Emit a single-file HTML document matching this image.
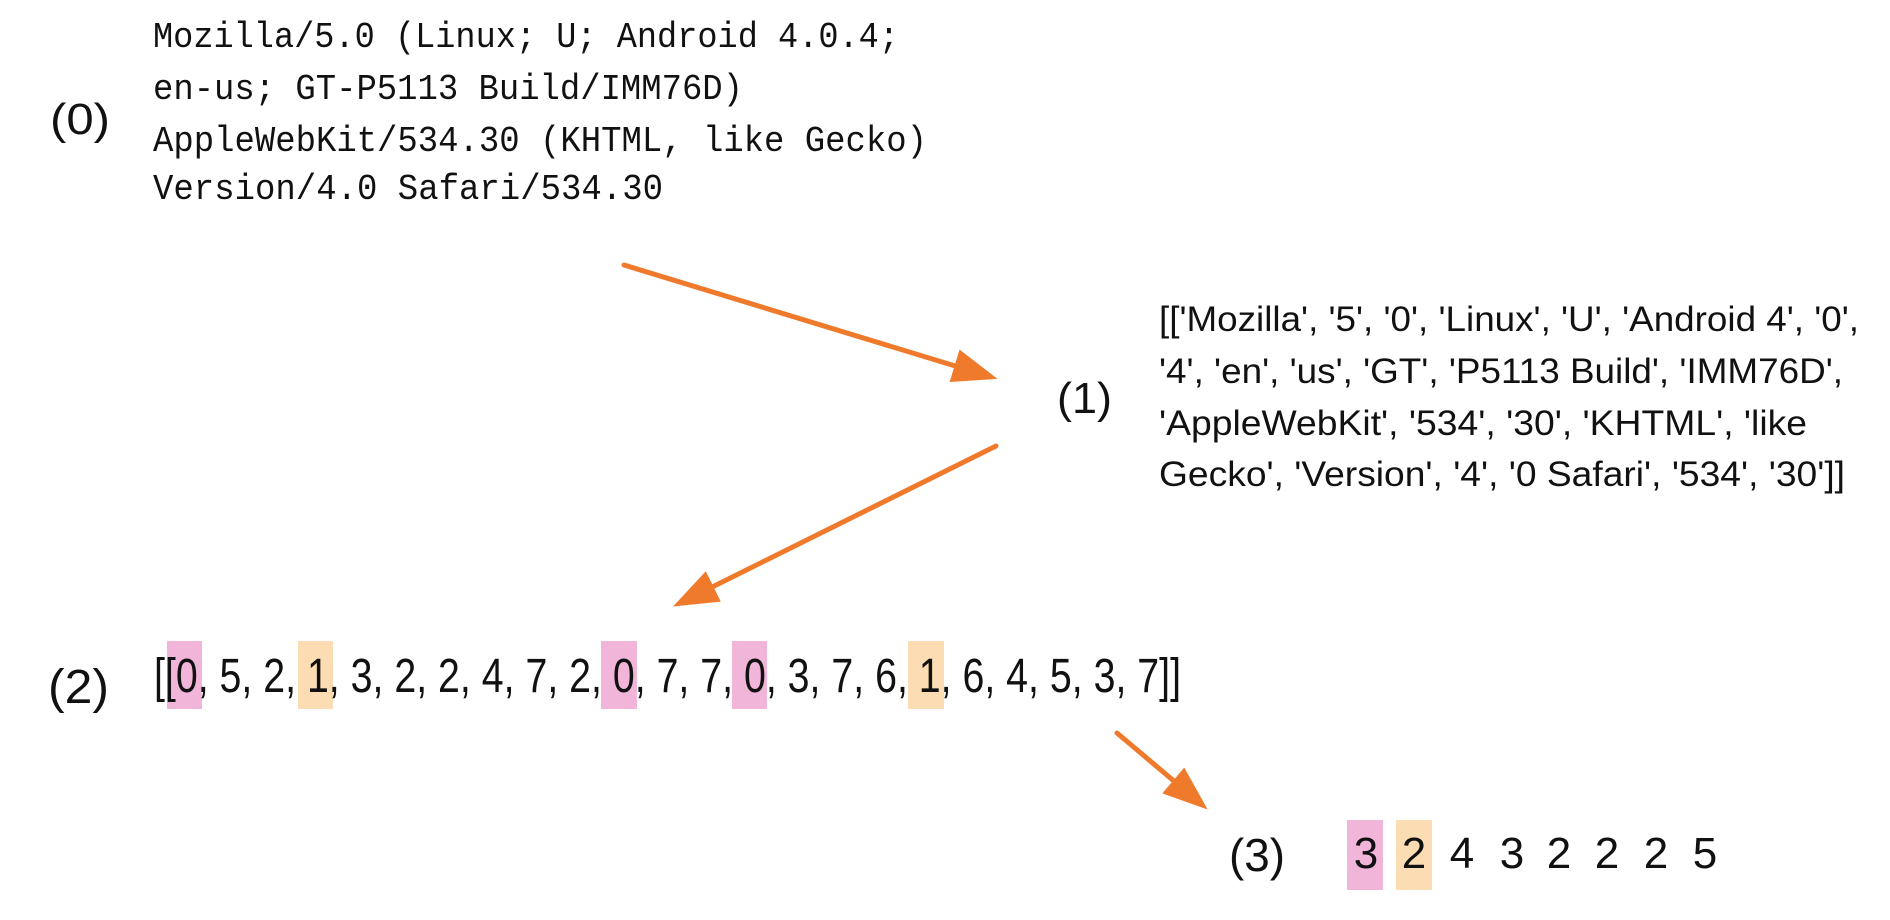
<!DOCTYPE html>
<html><head><meta charset="utf-8"><style>
html,body{margin:0;padding:0;background:#fff;width:1890px;height:920px;overflow:hidden}
</style></head><body>
<svg width="1890" height="920" viewBox="0 0 1890 920" xmlns="http://www.w3.org/2000/svg">
<rect width="1890" height="920" fill="#fff"/>
<defs>
<marker id="ah" markerWidth="9" markerHeight="8" refX="7" refY="4" orient="auto" markerUnits="strokeWidth">
<path d="M0,0.6 L9,4 L0,7.4 Z" fill="#ef7a2c"/>
</marker>
</defs>
<g>
<rect x="167" y="641" width="35" height="68" fill="#f1b5d9"/>
<rect x="298" y="641" width="35" height="68" fill="#fbdcb3"/>
<rect x="601" y="641" width="36" height="68" fill="#f1b5d9"/>
<rect x="732" y="641" width="35" height="68" fill="#f1b5d9"/>
<rect x="908" y="641" width="36" height="68" fill="#fbdcb3"/>
<rect x="1347" y="820" width="36" height="70" fill="#f1b5d9"/>
<rect x="1396" y="820" width="36" height="70" fill="#fbdcb3"/>
</g>
<g font-family="Liberation Mono, monospace" font-size="36" fill="#111">
<text x="153" y="47" textLength="746" lengthAdjust="spacingAndGlyphs">Mozilla/5.0 (Linux; U; Android 4.0.4;</text>
<text x="153" y="99" textLength="590" lengthAdjust="spacingAndGlyphs">en-us; GT-P5113 Build/IMM76D)</text>
<text x="153" y="151" textLength="774" lengthAdjust="spacingAndGlyphs">AppleWebKit/534.30 (KHTML, like Gecko)</text>
<text x="153" y="199" textLength="510" lengthAdjust="spacingAndGlyphs">Version/4.0 Safari/534.30</text>
</g>
<g font-family="Liberation Sans, Arial, sans-serif" fill="#111">
<text x="50" y="134" font-size="44" textLength="60" lengthAdjust="spacingAndGlyphs">(0)</text>
<text x="1057" y="413" font-size="44" textLength="55" lengthAdjust="spacingAndGlyphs">(1)</text>
<text x="48" y="703" font-size="48" textLength="61" lengthAdjust="spacingAndGlyphs">(2)</text>
<text x="1229" y="871" font-size="46" textLength="56" lengthAdjust="spacingAndGlyphs">(3)</text>
<g font-size="35">
<text x="1159" y="331" textLength="700" lengthAdjust="spacingAndGlyphs">[['Mozilla', '5', '0', 'Linux', 'U', 'Android 4', '0',</text>
<text x="1159" y="383" textLength="684" lengthAdjust="spacingAndGlyphs">'4', 'en', 'us', 'GT', 'P5113 Build', 'IMM76D',</text>
<text x="1159" y="435" textLength="648" lengthAdjust="spacingAndGlyphs">'AppleWebKit', '534', '30', 'KHTML', 'like</text>
<text x="1159" y="486" textLength="686" lengthAdjust="spacingAndGlyphs">Gecko', 'Version', '4', '0 Safari', '534', '30']]</text>
</g>
<text x="154" y="692" font-size="48" textLength="1027" lengthAdjust="spacingAndGlyphs">[[0, 5, 2, 1, 3, 2, 2, 4, 7, 2, 0, 7, 7, 0, 3, 7, 6, 1, 6, 4, 5, 3, 7]]</text>
<g font-size="44" text-anchor="middle">
<text x="1366" y="868">3</text>
<text x="1414" y="868">2</text>
<text x="1462" y="868">4</text>
<text x="1512" y="868">3</text>
<text x="1559" y="868">2</text>
<text x="1607" y="868">2</text>
<text x="1656" y="868">2</text>
<text x="1705" y="868">5</text>
</g>
</g>
<g stroke="#ef7a2c" stroke-width="5" fill="none" stroke-linecap="round">
<line x1="624" y1="265" x2="988" y2="376" marker-end="url(#ah)"/>
<line x1="996" y1="446" x2="682" y2="602" marker-end="url(#ah)"/>
<line x1="1117" y1="733" x2="1200" y2="803" marker-end="url(#ah)"/>
</g>
</svg>
</body></html>
